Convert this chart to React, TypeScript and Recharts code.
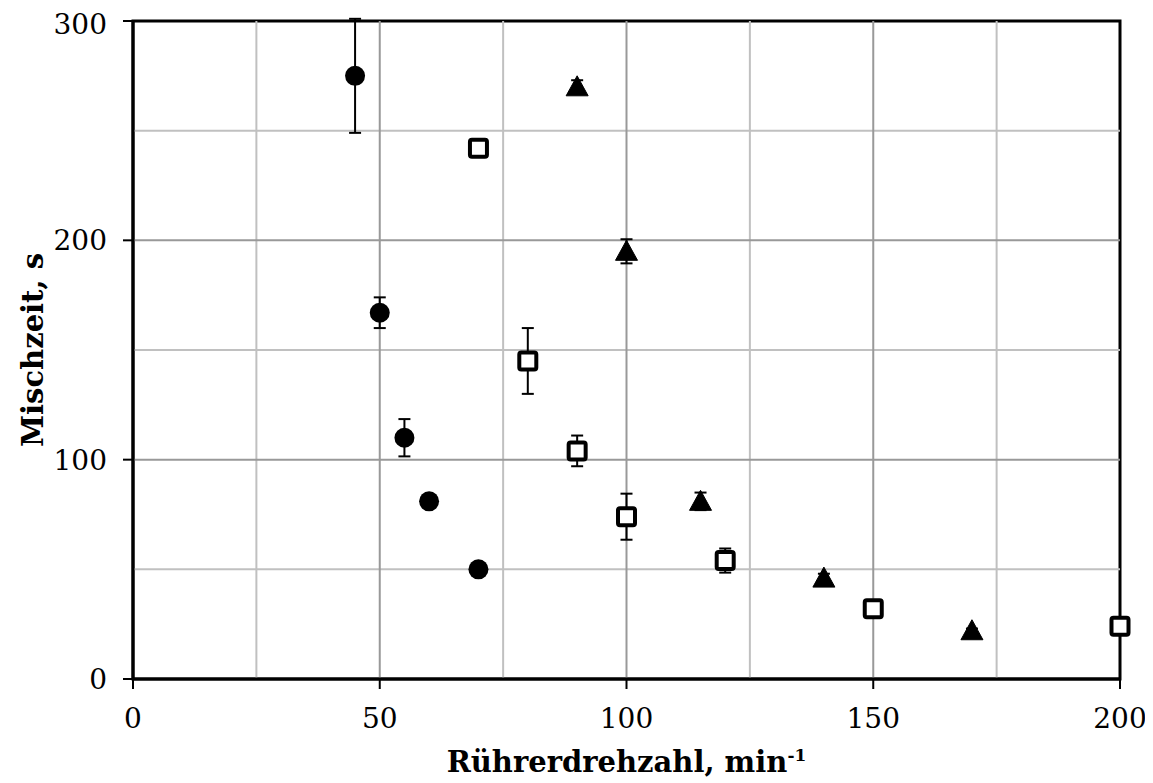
import React from 'react';
import {
  ScatterChart,
  Scatter,
  XAxis,
  YAxis,
  ErrorBar,
  ReferenceLine,
  ReferenceArea,
  Label,
} from 'recharts';

// circles (filled)
const circleX = [45, 50, 55, 60, 70];
const circleY = [275, 167, 110, 81, 50];
const circleErr = [26, 7, 8.5, null, null];

// hollow squares
const squareX = [70, 80, 90, 100, 120, 150, 200];
const squareY = [242, 145, 104, 74, 54, 32, 24];
const squareErr = [null, 15, 7, 10.5, 5.5, 4, null];

// filled triangles
const triX = [90, 100, 115, 140, 170];
const triY = [270, 195, 81, 46, 22];
const triErr = [3, 5.5, 4, 2, 1];

const xTicks = [0, 50, 100, 150, 200];
const yTicks = [0, 100, 200, 300];
const xMajorGrid = [50, 100, 150];
const xMinorGrid = [25, 75, 125, 175];
const yMajorGrid = [100, 200];
const yMinorGrid = [50, 150, 250];

const build = (xs: number[], ys: number[], errs: (number | null)[]) =>
  xs.map((x, i) => {
    const p: any = { x, y: ys[i] };
    if (errs[i] != null) p.err = errs[i];
    return p;
  });

const circles = build(circleX, circleY, circleErr);
const squares = build(squareX, squareY, squareErr);
const triangles = build(triX, triY, triErr);

const FONT = '"DejaVu Serif", serif';

const CircleShape = (props: any) => {
  const { cx, cy } = props;
  return <circle cx={cx} cy={cy} r={10} fill="#000" />;
};

const SquareShape = (props: any) => {
  const { cx, cy } = props;
  return (
    <rect x={cx - 8.5} y={cy - 8.5} width={17} height={17} rx={2} fill="#fff" stroke="#000" strokeWidth={4} />
  );
};

const TriangleShape = (props: any) => {
  const { cx, cy } = props;
  return (
    <polygon
      points={`${cx},${cy - 11} ${cx + 11},${cy + 9} ${cx - 11},${cy + 9}`}
      fill="#000"
      stroke="#000"
      strokeWidth={1}
      strokeLinejoin="round"
    />
  );
};

const XTitle = (props: any) => {
  const { viewBox } = props;
  const cx = viewBox.x + viewBox.width / 2;
  return (
    <text x={cx} y={viewBox.y + viewBox.height + 33} textAnchor="middle" fontFamily={FONT} fontWeight="bold" fontSize={29} fill="#000">
      Rührerdrehzahl, min
      <tspan dy={-11} fontSize={17}>-1</tspan>
    </text>
  );
};

export default function App() {
  return (
    <ScatterChart
      width={1140}
      height={770}
      margin={{ top: 13, right: 28, bottom: 39, left: 65 }}
      style={{ fontFamily: FONT }}
    >
      {xMinorGrid.map((v) => (
        <ReferenceLine key={'xm' + v} x={v} stroke="#c0c0c0" strokeWidth={2} />
      ))}
      {yMinorGrid.map((v) => (
        <ReferenceLine key={'ym' + v} y={v} stroke="#c0c0c0" strokeWidth={2} />
      ))}
      {xMajorGrid.map((v) => (
        <ReferenceLine key={'xM' + v} x={v} stroke="#999" strokeWidth={2} />
      ))}
      {yMajorGrid.map((v) => (
        <ReferenceLine key={'yM' + v} y={v} stroke="#999" strokeWidth={2} />
      ))}
      <XAxis
        type="number"
        dataKey="x"
        domain={[0, 200]}
        ticks={xTicks}
        height={60}
        tickSize={10}
        tickMargin={19}
        axisLine={{ stroke: '#000', strokeWidth: 3 }}
        tickLine={{ stroke: '#000', strokeWidth: 2 }}
        tick={{ fill: '#000', fontSize: 28, fontFamily: FONT }}
        label={<XTitle />}
      />
      <YAxis
        type="number"
        dataKey="y"
        domain={[0, 300]}
        ticks={yTicks}
        width={60}
        tickSize={10}
        tickMargin={16}
        allowDataOverflow
        axisLine={{ stroke: '#000', strokeWidth: 3 }}
        tickLine={{ stroke: '#000', strokeWidth: 2 }}
        tick={{ fill: '#000', fontSize: 28, fontFamily: FONT }}
      >
        <Label
          value="Mischzeit, s"
          angle={-90}
          position="left"
          offset={40}
          style={{ fontFamily: FONT, fontWeight: 'bold', fontSize: 29, fill: '#000', textAnchor: 'middle' }}
        />
      </YAxis>
      <ReferenceArea x1={0} x2={200} y1={0} y2={300} fill="none" stroke="#000" strokeWidth={3} />
      <Scatter data={circles} shape={<CircleShape />} isAnimationActive={false}>
        <ErrorBar dataKey="err" direction="y" width={6} stroke="#000" strokeWidth={2} />
      </Scatter>
      <Scatter data={squares} shape={<SquareShape />} isAnimationActive={false}>
        <ErrorBar dataKey="err" direction="y" width={6} stroke="#000" strokeWidth={2} />
      </Scatter>
      <Scatter data={triangles} shape={<TriangleShape />} isAnimationActive={false}>
        <ErrorBar dataKey="err" direction="y" width={6} stroke="#000" strokeWidth={2} />
      </Scatter>
    </ScatterChart>
  );
}
